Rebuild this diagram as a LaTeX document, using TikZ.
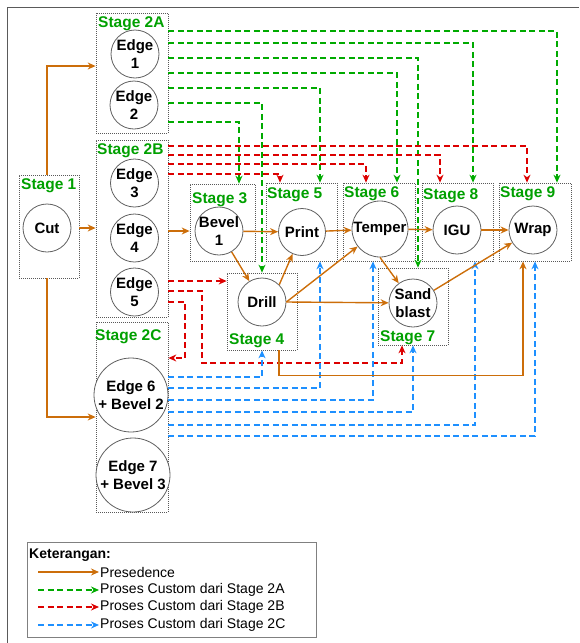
\documentclass[tikz,border=0pt]{standalone}
\usepackage{fontspec}
\setmainfont{Liberation Sans}
\usetikzlibrary{arrows.meta}

\definecolor{stagegreen}{RGB}{0,160,0}
\definecolor{precorange}{RGB}{204,110,10}
\definecolor{cusgreen}{RGB}{0,170,0}
\definecolor{cusred}{RGB}{220,0,0}
\definecolor{cusblue}{RGB}{30,144,255}
\definecolor{framegray}{RGB}{90,90,90}

\newcommand{\procfont}{\fontsize{15}{18}\selectfont\bfseries}
\newcommand{\lblfont}{\fontsize{15.5}{18}\selectfont\bfseries}
\newcommand{\legfont}{\fontsize{14}{16}\selectfont}

\tikzset{
  stagebox/.style={draw=gray!70!black, dash pattern=on 1pt off 1pt, line width=0.7pt, inner sep=0pt},
  stagelbl/.style={anchor=base west, inner sep=0pt, text=stagegreen, font=\lblfont},
  proc/.style={circle, draw=gray!75!black, line width=0.8pt, fill=white, align=center, inner sep=-2pt, font=\procfont},
  prec/.style={draw=precorange, line width=1.4pt, -{Stealth[length=8pt,width=7pt]}},
  cusA/.style={draw=cusgreen, line width=1.3pt, dash pattern=on 6pt off 3.5pt, -{Stealth[length=8pt,width=7pt]}},
  cusB/.style={cusA, draw=cusred},
  cusC/.style={cusA, draw=cusblue}
}

\begin{document}
\begin{tikzpicture}[x=1pt,y=-1pt]
\useasboundingbox (0,0) rectangle (579,643);
\draw[framegray, line width=0.8pt] (7,643) -- (7,7) -- (579,7);

% stage boxes
\node[stagebox, minimum width=60pt, minimum height=103pt] (s1) at (49,226.5) {};
\node[stagebox, minimum width=72pt, minimum height=120pt] (s2a) at (132,73) {};
\node[stagebox, minimum width=72pt, minimum height=177pt] (s2b) at (132,228.5) {};
\node[stagebox, minimum width=72pt, minimum height=190pt] (s2c) at (132,417) {};
\node[stagebox, minimum width=65pt, minimum height=77pt] (s3) at (222.5,222.5) {};
\node[stagebox, minimum width=70pt, minimum height=77pt] (s4) at (262,311.5) {};
\node[stagebox, minimum width=71pt, minimum height=78pt] (s5) at (301.5,222) {};
\node[stagebox, minimum width=72pt, minimum height=78pt] (s6) at (379,222) {};
\node[stagebox, minimum width=70pt, minimum height=77pt] (s7) at (413,306.5) {};
\node[stagebox, minimum width=71pt, minimum height=78pt] (s8) at (457.5,222) {};
\node[stagebox, minimum width=72pt, minimum height=78pt] (s9) at (535,222) {};

% stage labels
\node[stagelbl] (t1) at (21,189) {Stage 1};
\node[stagelbl] (t2a) at (98,27) {Stage 2A};
\node[stagelbl] (t2b) at (97,154) {Stage 2B};
\node[stagelbl] (t2c) at (95,340) {Stage 2C};
\node[stagelbl] (t3) at (192,203) {Stage 3};
\node[stagelbl] (t4) at (229,344) {Stage 4};
\node[stagelbl] (t5) at (267,198) {Stage 5};
\node[stagelbl] (t6) at (344,197) {Stage 6};
\node[stagelbl] (t7) at (380,341) {Stage 7};
\node[stagelbl] (t8) at (423,199) {Stage 8};
\node[stagelbl] (t9) at (500,197) {Stage 9};

% processes
\node[proc, minimum size=48pt] (cut) at (47,228) {Cut};
\node[proc, minimum size=48pt] (edge1) at (135,54) {Edge\\1};
\node[proc, minimum size=48pt] (edge2) at (134,105) {Edge\\2};
\node[proc, minimum size=48pt] (edge3) at (134.5,183) {Edge\\3};
\node[proc, minimum size=48pt] (edge4) at (134.5,238) {Edge\\4};
\node[proc, minimum size=48pt] (edge5) at (134.5,292) {Edge\\5};
\node[proc, minimum size=74pt] (edge6) at (131,395) {Edge 6\\+ Bevel 2};
\node[proc, minimum size=74pt] (edge7) at (133,475) {Edge 7\\+ Bevel 3};
\node[proc, minimum size=48pt] (bevel1) at (219,231) {Bevel\\1};
\node[proc, minimum size=47pt] (print) at (302,232) {Print};
\node[proc, minimum size=48pt] (drill) at (262,302) {Drill};
\node[proc, minimum size=56pt] (temper) at (380,229) {Temper};
\node[proc, minimum size=48pt] (sand) at (413,303) {Sand\\blast};
\node[proc, minimum size=48pt] (igu) at (457,230) {IGU};
\node[proc, minimum size=48pt] (wrap) at (533,230) {Wrap};

% custom dari stage 2A
\foreach \yy/\tgt/\dx in {31/s9/22, 43/s8/15.5, 58/s7/5, 73/s6/18, 88/s5/18.5, 103/s4/0, 122/s3/16.5}
  \draw[cusA] (s2a.east |- 0,\yy) -| ([xshift=\dx pt]\tgt.north);

% custom dari stage 2B
\foreach \yy/\tgt/\dx in {146/s9/-8, 155/s8/-17.5, 164/s6/-13, 174/s5/-21.5}
  \draw[cusB] (s2b.east |- 0,\yy) -| ([xshift=\dx pt]\tgt.north);
\draw[cusB] (s2b.east |- 0,281) -- (s4.west |- 0,281);
\draw[cusB] (s2b.east |- 0,291) -| (202,363) -| ([xshift=-11pt]s7.south);
\draw[cusB] (s2b.east |- 0,302) -| (185,358) -- (s2c.east |- 0,358);

% custom dari stage 2C
\foreach \yy/\tgt/\dx in {377/s4/0, 388/s5/18.5, 400/s6/-6, 412/s7/0, 425/s8/17.5, 436/s9/0}
  \draw[cusC] (s2c.east |- 0,\yy) -| ([xshift=\dx pt]\tgt.south);

% presedence
\draw[prec] (s1.north -| cut) |- ([yshift=7pt]s2a.west);
\draw[prec] (s1.east |- cut) -- (s2b.west |- cut);
\draw[prec] (s1.south -| cut) |- (s2c.west);
\draw[prec] (s2b.east |- bevel1) -- (s3.west |- bevel1);
\draw[prec] (bevel1) -- (print);
\draw[prec] (bevel1) -- (drill);
\draw[prec] (drill.45) -- (print);
\draw[prec] (print) -- (temper);
\draw[prec] (drill.east) -- (temper);
\draw[prec] (drill.east) -- (sand);
\draw[prec] (temper.south) -- (sand);
\draw[prec] (temper) -- (igu);
\draw[prec] (igu) -- (wrap);
\draw[prec] (sand) -- (wrap);
\draw[prec] ([xshift=17pt]s4.south) -- ++(0,25) -| ([xshift=-12pt]s9.south);

% keterangan
\node[draw=gray, line width=0.8pt, minimum width=289pt, minimum height=95pt] (leg) at (171.5,589.5) {};
\node[anchor=base west, inner sep=0pt, font=\legfont\bfseries] (legtitle) at (29,558) {Keterangan:};
\foreach \yy/\sty/\txt [count=\i] in {572/prec/Presedence, 590/cusA/Proses Custom dari Stage 2A, 607/cusB/Proses Custom dari Stage 2B, 625/cusC/Proses Custom dari Stage 2C}
{
  \coordinate (la\i) at (38,\yy);
  \node[anchor=west, inner sep=1pt, font=\legfont] (lt\i) at (99,\yy) {\txt};
  \draw[\sty] (la\i) -- (lt\i.west);
}
\end{tikzpicture}
\end{document}
